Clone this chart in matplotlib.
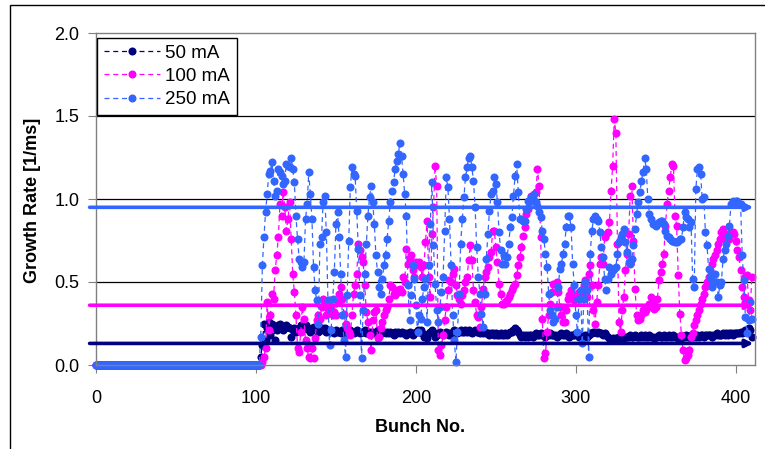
import numpy as np
import matplotlib
matplotlib.use("Agg")
import matplotlib.pyplot as plt
from matplotlib.patches import Rectangle

plt.rcParams['font.family'] = ['Liberation Sans', 'DejaVu Sans']

# bunches 0..102 are empty (growth rate 0), data from bunch 103 to 410
n_empty = 103
first_bunch = 103

rate_50mA = [
    0.05, 0.12, 0.25, 0.15, 0.22, 0.26, 0.18, 0.25, 0.23, 0.15,
    0.21, 0.24, 0.25, 0.22, 0.21, 0.22, 0.24, 0.23, 0.22, 0.17,
    0.21, 0.22, 0.20, 0.21, 0.22, 0.24, 0.21, 0.22, 0.24, 0.22,
    0.21, 0.20, 0.22, 0.23, 0.21, 0.22, 0.20, 0.21, 0.22, 0.21,
    0.22, 0.20, 0.21, 0.20, 0.21, 0.20, 0.19, 0.21, 0.20, 0.20,
    0.19, 0.21, 0.20, 0.19, 0.21, 0.20, 0.21, 0.20, 0.19, 0.20,
    0.21, 0.20, 0.19, 0.20, 0.20, 0.21, 0.19, 0.20, 0.20, 0.19,
    0.20, 0.19, 0.20, 0.21, 0.19, 0.20, 0.19, 0.20, 0.19, 0.20,
    0.19, 0.20, 0.19, 0.18, 0.20, 0.19, 0.20, 0.19, 0.20, 0.19,
    0.19, 0.18, 0.19, 0.20, 0.19, 0.18, 0.19, 0.20, 0.21, 0.20,
    0.21, 0.19, 0.17, 0.18, 0.16, 0.19, 0.20, 0.21, 0.20, 0.17,
    0.18, 0.19, 0.20, 0.19, 0.18, 0.19, 0.20, 0.19, 0.18, 0.19,
    0.20, 0.21, 0.20, 0.19, 0.20, 0.21, 0.20, 0.20, 0.21, 0.20,
    0.21, 0.20, 0.19, 0.20, 0.21, 0.20, 0.20, 0.19, 0.20, 0.19,
    0.20, 0.19, 0.19, 0.18, 0.19, 0.19, 0.18, 0.19, 0.18, 0.18,
    0.19, 0.18, 0.18, 0.19, 0.18, 0.19, 0.20, 0.20, 0.21, 0.22,
    0.21, 0.20, 0.18, 0.17, 0.18, 0.17, 0.18, 0.17, 0.18, 0.18,
    0.17, 0.18, 0.19, 0.18, 0.18, 0.19, 0.18, 0.18, 0.17, 0.18,
    0.18, 0.19, 0.18, 0.18, 0.18, 0.17, 0.18, 0.18, 0.19, 0.18,
    0.18, 0.19, 0.18, 0.17, 0.18, 0.18, 0.18, 0.19, 0.18, 0.17,
    0.18, 0.17, 0.17, 0.18, 0.17, 0.18, 0.19, 0.19, 0.20, 0.20,
    0.19, 0.20, 0.19, 0.19, 0.18, 0.19, 0.18, 0.17, 0.16, 0.15,
    0.16, 0.15, 0.16, 0.16, 0.17, 0.16, 0.17, 0.16, 0.17, 0.17,
    0.17, 0.18, 0.17, 0.17, 0.18, 0.17, 0.17, 0.17, 0.18, 0.17,
    0.18, 0.17, 0.17, 0.18, 0.17, 0.17, 0.16, 0.17, 0.17, 0.18,
    0.17, 0.17, 0.18, 0.17, 0.17, 0.18, 0.17, 0.17, 0.18, 0.17,
    0.17, 0.16, 0.17, 0.16, 0.17, 0.17, 0.18, 0.17, 0.17, 0.18,
    0.17, 0.18, 0.17, 0.18, 0.17, 0.18, 0.18, 0.17, 0.18, 0.18,
    0.18, 0.18, 0.17, 0.18, 0.18, 0.19, 0.18, 0.18, 0.18, 0.19,
    0.18, 0.19, 0.18, 0.19, 0.19, 0.18, 0.19, 0.19, 0.19, 0.19,
    0.20, 0.19, 0.20, 0.21, 0.20, 0.22, 0.21, 0.17,
]

rate_100mA = [
    0.00, 0.02, 0.05, 0.10, 0.38, 0.21, 0.30, 0.43, 0.40, 0.57,
    0.66, 0.77, 0.97, 0.90, 1.04, 0.95, 0.81, 0.88, 0.98, 0.76,
    0.55, 0.44, 0.30, 0.10, 0.08, 0.20, 0.35, 0.28, 0.15, 0.10,
    0.05, 0.04, 0.10, 0.04, 0.16, 0.27, 0.30, 0.28, 0.35, 0.40,
    0.37, 0.30, 0.34, 0.39, 0.35, 0.30, 0.32, 0.30, 0.38, 0.43,
    0.47, 0.40, 0.31, 0.25, 0.22, 0.20, 0.18, 0.30, 0.43, 0.48,
    0.55, 0.73, 0.69, 0.65, 0.62, 0.48, 0.32, 0.26, 0.18, 0.09,
    0.27, 0.32, 0.33, 0.16, 0.17, 0.22, 0.26, 0.30, 0.33, 0.35,
    0.40, 0.48, 0.47, 0.43, 0.42, 0.45, 0.44, 0.46, 0.44, 0.53,
    0.50, 0.70, 0.61, 0.64, 0.66, 0.57, 0.53, 0.62, 0.60, 0.62,
    0.59, 0.53, 0.60, 0.74, 0.87, 0.53, 0.41, 0.79, 0.95, 1.20,
    1.08, 0.09, 0.06, 0.12, 0.18, 0.27, 0.35, 0.45, 0.51, 0.50,
    0.55, 0.58, 0.48, 0.42, 0.40, 0.37, 0.42, 0.45, 0.50, 0.53,
    0.63, 0.72, 0.63, 0.45, 0.38, 0.30, 0.29, 0.23, 0.35, 0.46,
    0.53, 0.56, 0.59, 0.65, 0.68, 0.81, 0.81, 0.71, 0.62, 0.49,
    0.43, 0.37, 0.37, 0.38, 0.39, 0.41, 0.43, 0.45, 0.47, 0.49,
    0.54, 0.60, 0.65, 0.71, 0.78, 0.83, 0.91, 0.94, 0.99, 1.02,
    1.00, 0.99, 1.04, 1.18, 1.08, 0.77, 0.28, 0.04, 0.07, 0.20,
    0.30, 0.37, 0.44, 0.49, 0.49, 0.50, 0.44, 0.35, 0.30, 0.26,
    0.26, 0.33, 0.40, 0.42, 0.45, 0.41, 0.39, 0.40, 0.42, 0.44,
    0.42, 0.44, 0.48, 0.51, 0.41, 0.55, 0.60, 0.48, 0.33, 0.25,
    0.38, 0.48, 0.61, 0.65, 0.61, 0.77, 0.79, 0.80, 0.86, 1.05,
    1.20, 1.48, 1.40, 0.73, 0.26, 0.20, 0.33, 0.41, 0.57, 0.67,
    0.79, 1.02, 1.08, 0.75, 0.46, 0.30, 0.27, 0.28, 0.30, 0.33,
    0.32, 0.33, 0.35, 0.37, 0.41, 0.38, 0.34, 0.35, 0.40, 0.51,
    0.56, 0.61, 0.67, 0.84, 0.97, 1.05, 1.13, 1.21, 1.20, 0.90,
    0.84, 0.54, 0.31, 0.18, 0.09, 0.03, 0.04, 0.06, 0.09, 0.17,
    0.19, 0.24, 0.27, 0.30, 0.33, 0.37, 0.40, 0.43, 0.47, 0.50,
    0.53, 0.57, 0.61, 0.64, 0.66, 0.69, 0.73, 0.76, 0.80, 0.82,
    0.78, 0.76, 0.79, 0.76, 0.80, 0.80, 0.79, 0.75, 0.69, 0.65,
    0.57, 0.47, 0.41, 0.53, 0.54, 0.39, 0.33, 0.53,
]

rate_250mA = [
    0.17, 0.60, 0.77, 0.92, 1.03, 1.15, 1.17, 1.22, 1.11, 1.02,
    1.05, 1.18, 1.16, 1.14, 1.09, 1.11, 1.21, 1.20, 1.19, 1.25,
    1.18, 1.10, 0.90, 0.76, 0.64, 0.62, 0.59, 0.62, 0.88, 0.97,
    1.16, 1.03, 0.88, 0.59, 0.45, 0.39, 0.25, 0.73, 0.77, 0.98,
    1.02, 0.80, 0.39, 0.12, 0.21, 0.40, 0.56, 0.85, 0.92, 0.77,
    0.55, 0.30, 0.15, 0.05, 0.42, 0.75, 1.07, 1.19, 1.15, 1.14,
    0.93, 0.70, 0.42, 0.04, 0.33, 0.55, 0.73, 0.90, 1.01, 1.08,
    0.98, 0.85, 0.66, 0.56, 0.47, 0.43, 0.52, 0.60, 0.66, 0.76,
    0.87, 0.98, 1.05, 1.10, 1.18, 1.23, 1.27, 1.34, 1.26, 1.15,
    1.03, 0.90, 0.48, 0.27, 0.42, 0.60, 0.52, 0.36, 0.20, 0.30,
    0.28, 0.40, 0.47, 0.52, 0.26, 0.60, 0.85, 1.10, 0.72, 0.49,
    0.33, 0.26, 0.35, 0.44, 0.53, 0.81, 1.13, 1.07, 0.88, 0.60,
    0.30, 0.15, 0.02, 0.20, 0.43, 0.73, 0.88, 1.01, 1.13, 1.19,
    1.25, 1.26, 1.19, 1.11, 0.95, 0.71, 0.53, 0.43, 0.31, 0.23,
    0.43, 0.64, 0.79, 0.93, 1.03, 1.05, 1.13, 1.09, 0.98, 0.80,
    0.69, 0.61, 0.66, 0.61, 0.65, 0.73, 0.83, 0.89, 1.02, 1.14,
    1.21, 1.04, 0.88, 0.88, 0.87, 0.87, 0.94, 0.99, 0.98, 1.01,
    1.00, 1.03, 0.98, 0.96, 0.92, 0.89, 0.81, 0.76, 0.67, 0.59,
    0.43, 0.33, 0.30, 0.26, 0.28, 0.35, 0.47, 0.58, 0.61, 0.67,
    0.73, 0.83, 0.90, 0.90, 0.83, 0.61, 0.48, 0.30, 0.20, 0.40,
    0.45, 0.13, 0.40, 0.50, 0.45, 0.05, 0.67, 0.81, 0.88, 0.90,
    0.88, 0.87, 0.80, 0.71, 0.65, 0.52, 0.45, 0.52, 0.59, 0.55,
    0.57, 0.58, 0.59, 0.67, 0.74, 0.77, 0.79, 0.82, 0.74, 0.68,
    0.62, 0.61, 0.64, 0.72, 0.82, 0.91, 0.98, 1.04, 1.11, 1.16,
    1.25, 1.18, 1.00, 0.91, 0.88, 0.85, 0.85, 0.84, 0.85, 0.86,
    0.87, 0.87, 0.85, 0.81, 0.78, 0.77, 0.76, 0.75, 0.75, 0.74,
    0.74, 0.75, 0.76, 0.76, 0.83, 0.92, 0.89, 0.88, 0.83, 0.86,
    0.52, 0.47, 1.06, 1.18, 1.19, 1.15, 1.00, 1.01, 0.80, 0.72,
    0.58, 0.53, 0.47, 0.50, 0.55, 0.50, 0.41, 0.48, 0.50, 0.64,
    0.69, 0.73, 0.78, 0.84, 0.97, 0.99, 0.98, 0.99, 0.99, 0.97,
    0.97, 0.66, 0.51, 0.29, 0.19, 0.27, 0.38, 0.28,
]

# average growth rate drawn as arrows across the plot
avg_rate = {"50 mA": 0.13, "100 mA": 0.36, "250 mA": 0.95}

labels = ["50 mA", "100 mA", "250 mA"]
colors = ["#000080", "#FF00FF", "#3366FF"]

bunch = np.arange(0, first_bunch + len(rate_50mA))
series = [[0.0] * n_empty + s for s in (rate_50mA, rate_100mA, rate_250mA)]

fig = plt.figure(figsize=(7.65, 4.49), dpi=100)
ax = fig.add_axes([96/765, 84/449, 659/765, 332/449])

for vals, col, lab in zip(series, colors, labels):
    ax.plot(bunch, vals, color=col, lw=0.9, linestyle=(0, (4, 3)),
            marker='o', ms=5.8, mew=0, label=lab, clip_on=False)

for lab, col in zip(labels, colors):
    y = avg_rate[lab]
    ax.annotate('', xy=(411, y), xytext=(-4, y), annotation_clip=False,
                arrowprops=dict(arrowstyle='-|>', color=col, lw=2.6,
                                mutation_scale=11, shrinkA=0, shrinkB=0),
                zorder=5)

ax.set_xlim(0, 412)
ax.set_ylim(0, 2.0)
ax.set_xticks([0, 100, 200, 300, 400])
ax.set_yticks([0, 0.5, 1.0, 1.5, 2.0])
ax.set_yticklabels(["0.0", "0.5", "1.0", "1.5", "2.0"])
for yg in [0.5, 1.0, 1.5]:
    ax.axhline(yg, color='black', lw=0.9, zorder=0.5)

for sp in ax.spines.values():
    sp.set_color('#808080')
    sp.set_linewidth(1.0)
ax.tick_params(axis='both', direction='out', length=6, color='#808080',
               labelsize=13)
ax.tick_params(axis='x', pad=12)
ax.tick_params(axis='y', pad=6)

fig.text(33/765, 1 - 200/449, 'Growth Rate [1/ms]', rotation=90,
         ha='center', va='center', fontsize=13, fontweight='bold')
fig.text(420/765, 1 - 428/449, 'Bunch No.', ha='center', va='center',
         fontsize=13, fontweight='bold')

leg = ax.legend(loc='upper left', bbox_to_anchor=(0.0015, 0.985),
                borderaxespad=0, fancybox=False, framealpha=1,
                edgecolor='black', fontsize=13.5, numpoints=1,
                handlelength=3.0, handletextpad=0.3, labelspacing=0.33,
                borderpad=0.35)
leg.get_frame().set_linewidth(1.0)

# outer chart border
fig.patches.append(Rectangle((10/765, -0.1), 1.0, (449 - 5)/449 + 0.1,
                             transform=fig.transFigure, fill=False,
                             edgecolor='black', lw=1.0))

fig.savefig("out.png", dpi=100)
